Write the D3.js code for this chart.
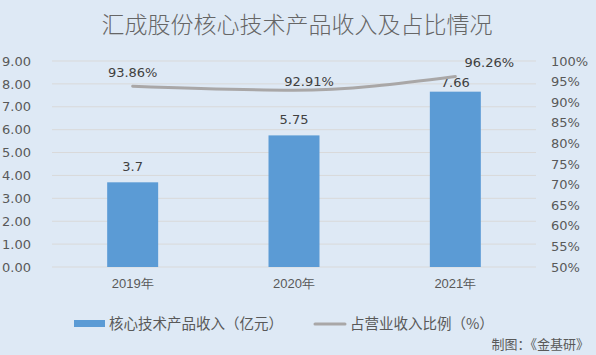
<!DOCTYPE html>
<html><head><meta charset="utf-8">
<script src="https://cdn.jsdelivr.net/npm/d3@7"></script>
<style>body{margin:0;background:#dee9f5;}svg{display:block;}</style>
</head><body>
<script>
const categories = ["2019年","2020年","2021年"];
const revenue = [3.7, 5.75, 7.66];
const revenueLabels = ["3.7","5.75","7.66"];
const share = [93.86, 92.91, 96.26];
const shareLabels = ["93.86%","92.91%","96.26%"];
const leftTicks = [0,1,2,3,4,5,6,7,8,9];
const rightTicks = [50,55,60,65,70,75,80,85,90,95,100];
const title = "汇成股份核心技术产品收入及占比情况";
const legendNames = ["核心技术产品收入（亿元）","占营业收入比例（%）"];
const sourceText = "制图：《金基研》";

(function(){
const W=596,H=355;
const font = "'Noto Sans CJK SC','DejaVu Sans',sans-serif";
const svg = d3.select("body").append("svg").attr("width",W).attr("height",H)
  .style("background","#dee9f5").style("font-family",font);

const pl=52,pr=536,pt=61,pb=267;
const x = d3.scaleBand().domain(categories).range([pl,pr]).paddingInner(0.684).paddingOuter(0.342);
const y = d3.scaleLinear().domain([0,9]).range([pb,pt]);
const y2 = d3.scaleLinear().domain([50,100]).range([pb,pt]);

svg.append("text").attr("x",297).attr("y",33).attr("text-anchor","middle")
  .attr("font-size",23).attr("font-weight",300).attr("fill","#666666").text(title);

svg.append("g").selectAll("line").data(leftTicks).join("line")
  .attr("x1",pl).attr("x2",pr).attr("y1",d=>y(d)).attr("y2",d=>y(d))
  .attr("stroke","#d9d9d9").attr("stroke-width",1);

const ga = svg.append("g").attr("transform",`translate(${pl-16},0)`)
  .call(d3.axisLeft(y).tickValues(leftTicks).tickFormat(d3.format(".2f")).tickSize(0));
ga.select(".domain").remove();
ga.selectAll("text").attr("font-size",13).attr("fill","#595959").attr("font-family","'DejaVu Sans',sans-serif").attr("dx",-2);

const gb = svg.append("g").attr("transform",`translate(${pr+12},0)`)
  .call(d3.axisRight(y2).tickValues(rightTicks).tickFormat(d=>d+"%").tickSize(0));
gb.select(".domain").remove();
gb.selectAll("text").attr("font-size",13).attr("fill","#595959").attr("font-family","'DejaVu Sans',sans-serif");

const gx = svg.append("g").attr("transform",`translate(0,${pb+9})`)
  .call(d3.axisBottom(x).tickSize(0));
gx.select(".domain").remove();
gx.selectAll("text").attr("font-size",13).attr("fill","#595959");

svg.append("g").selectAll("rect").data(revenue).join("rect")
  .attr("x",(d,i)=>x(categories[i])).attr("width",x.bandwidth())
  .attr("y",d=>y(d)).attr("height",d=>pb-y(d)).attr("fill","#5b9bd5");
const boffs=[-11,-11,-5];
svg.append("g").selectAll("text").data(revenue).join("text")
  .attr("x",(d,i)=>x(categories[i])+x.bandwidth()/2).attr("y",(d,i)=>y(d)+boffs[i])
  .attr("text-anchor","middle").attr("font-size",13).attr("fill","#404040")
  .attr("font-family","'DejaVu Sans',sans-serif")
  .text((d,i)=>revenueLabels[i]);

const pts = share.map((d,i)=>[x(categories[i])+x.bandwidth()/2, y2(d)]);
svg.append("path").attr("d",d3.line().curve(d3.curveMonotoneX)(pts))
  .attr("fill","none").attr("stroke","#a9a7a7").attr("stroke-width",3).attr("stroke-linecap","round");
const offs=[[0,-9],[15,-4],[34,-9]];
svg.append("g").selectAll("text").data(share).join("text")
  .attr("x",(d,i)=>pts[i][0]+offs[i][0]).attr("y",(d,i)=>pts[i][1]+offs[i][1])
  .attr("text-anchor","middle").attr("font-size",13).attr("fill","#404040")
  .attr("font-family","'DejaVu Sans',sans-serif")
  .text((d,i)=>shareLabels[i]);

svg.append("rect").attr("x",74).attr("y",320).attr("width",31).attr("height",7).attr("fill","#5b9bd5");
svg.append("text").attr("x",109).attr("y",329).attr("font-size",14.5).attr("fill","#595959").text(legendNames[0]);
svg.append("line").attr("x1",315).attr("x2",345).attr("y1",324).attr("y2",324)
  .attr("stroke","#a9a7a7").attr("stroke-width",3).attr("stroke-linecap","round");
svg.append("text").attr("x",350).attr("y",329).attr("font-size",14.5).attr("fill","#595959").text(legendNames[1]);

svg.append("text").attr("x",589).attr("y",349).attr("text-anchor","end")
  .attr("font-size",13).attr("fill","#595959").text(sourceText);
})();
</script>
</body></html>
